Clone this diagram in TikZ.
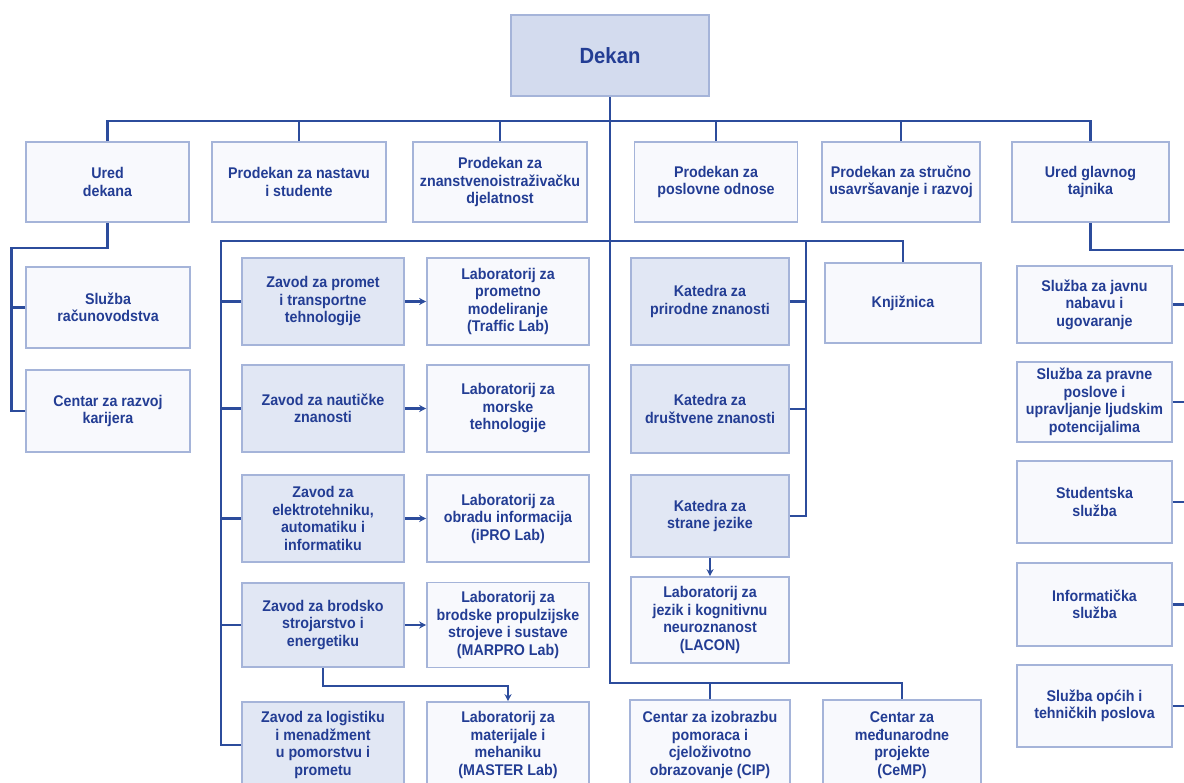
\documentclass[tikz,border=0pt]{standalone}
\usepackage{fontspec}
\setmainfont{Liberation Sans}[FakeStretch=0.92]
\usepackage{xcolor}
\usetikzlibrary{arrows.meta}

\definecolor{linec}{HTML}{2C4C9C}
\definecolor{textc}{HTML}{233D94}
\definecolor{boxc}{HTML}{A5B4D9}
\definecolor{fillz}{HTML}{E1E7F4}
\definecolor{filld}{HTML}{D3DBEE}
\definecolor{fillw}{HTML}{F8F9FD}

\tikzset{
    unit/.style={draw=boxc, line width=1.6pt, fill=fillw, text=textc,
        font=\bfseries\fontsize{15.5}{17.5}\selectfont, align=center, inner sep=0pt},
    zavod/.style={unit, fill=fillz},
    wh/.style 2 args={minimum width=#1pt, minimum height=#2pt},
    link/.style={draw=linec, line width=2.3pt},
    linkarr/.style={link, -{Stealth[length=7pt, width=7pt]}}
}

\begin{document}
\begin{tikzpicture}[x=1pt, y=-1pt]

        \useasboundingbox (0,0) rectangle (1184,783);
        \clip (0,0) rectangle (1184,783);

        % 1. Dekan
        \node[unit, fill=filld, wh={198}{81}, font=\bfseries\fontsize{22}{24}\selectfont] (dekan) at (610,55.5) {Dekan};

        % 2. First row
        \node[unit, wh={163}{80}] (uredD) at (107.5,182) {Ured\\dekana};
        \node[unit, wh={174}{80}] (prodN) at (299,182) {Prodekan za nastavu\\i studente};
        \node[unit, wh={174}{80}] (prodZ) at (500,182) {Prodekan za\\znanstvenoistraživačku\\djelatnost};
        \node[unit, wh={163}{80}] (prodP) at (716,182) {Prodekan za\\poslovne odnose};
        \node[unit, wh={158}{80}] (prodS) at (901,182) {Prodekan za stručno\\usavršavanje i razvoj};
        \node[unit, wh={157}{80}] (uredT) at (1090.5,182) {Ured glavnog\\tajnika};

        % 3. Under Ured dekana
        \node[unit, wh={164}{81}] (sluzR) at (108,307.5) {Služba\\računovodstva};
        \node[unit, wh={164}{82}] (centK) at (108,411) {Centar za razvoj\\karijera};

        % 4. Zavodi and their labs
        \node[zavod, wh={162}{87}] (zPromet) at (323,301.5) {Zavod za promet\\i transportne\\tehnologije};
        \node[zavod, wh={162}{87}] (zNaut) at (323,408.5) {Zavod za nautičke\\znanosti};
        \node[zavod, wh={162}{87}] (zElek) at (323,518.5) {Zavod za\\elektrotehniku,\\automatiku i\\informatiku};
        \node[zavod, wh={162}{84}] (zBrod) at (323,625) {Zavod za brodsko\\strojarstvo i\\energetiku};
        \node[zavod, wh={162}{86}] (zLog) at (323,745) {Zavod za logistiku\\i menadžment\\u pomorstvu i\\prometu};

        \node[unit, wh={162}{87}] (lTraffic) at (508,301.5) {Laboratorij za\\prometno\\modeliranje\\(Traffic Lab)};
        \node[unit, wh={162}{87}] (lMorske) at (508,408.5) {Laboratorij za\\morske\\tehnologije};
        \node[unit, wh={162}{87}] (lIpro) at (508,518.5) {Laboratorij za\\obradu informacija\\(iPRO Lab)};
        \node[unit, wh={162}{85}] (lMarpro) at (508,625) {Laboratorij za\\brodske propulzijske\\strojeve i sustave\\(MARPRO Lab)};
        \node[unit, wh={162}{86}] (lMaster) at (508,745) {Laboratorij za\\materijale i\\mehaniku\\(MASTER Lab)};

        % 5. Katedre, Knjižnica
        \node[zavod, wh={158}{87}] (kPrir) at (710,301.5) {Katedra za\\prirodne znanosti};
        \node[zavod, wh={158}{88}] (kDrus) at (710,409) {Katedra za\\društvene znanosti};
        \node[zavod, wh={158}{82}] (kStr) at (710,516) {Katedra za\\strane jezike};
        \node[unit, wh={158}{86}] (lLacon) at (710,620) {Laboratorij za\\jezik i kognitivnu\\neuroznanost\\(LACON)};
        \node[unit, wh={156}{80}] (knj) at (903,303) {Knjižnica};

        % 6. Centri
        \node[unit, wh={160}{90}] (cip) at (710,745) {Centar za izobrazbu\\pomoraca i\\cjeloživotno\\obrazovanje (CIP)};
        \node[unit, wh={158}{90}] (cemp) at (902,745) {Centar za\\međunarodne\\projekte\\(CeMP)};

        % 7. Under Ured glavnog tajnika
        \node[unit, wh={155}{77}] (sJavna) at (1094.5,304.5) {Služba za javnu\\nabavu i\\ugovaranje};
        \node[unit, wh={155}{80}] (sPravne) at (1094.5,402) {Služba za pravne\\poslove i\\upravljanje ljudskim\\potencijalima};
        \node[unit, wh={155}{82}] (sStud) at (1094.5,502) {Studentska\\služba};
        \node[unit, wh={155}{83}] (sInfo) at (1094.5,604.5) {Informatička\\služba};
        \node[unit, wh={155}{82}] (sOpci) at (1094.5,706) {Služba općih i\\tehničkih poslova};

        % 8. Bus points
        \coordinate (tb) at (0,121);
        \coordinate (lc) at (11.5,248);
        \coordinate (ib) at (221,241);
        \coordinate (kx) at (806,241);
        \coordinate (mb) at (0,686);
        \coordinate (bb) at (0,683);
        \coordinate (rx) at (1192,250);

        % 9. Connectors
        \draw[link] (dekan.south) -- (dekan.south |- bb) -- (cemp.north |- bb) -- (cemp.north);
        \draw[link] (cip.north) -- (cip.north |- bb);
        \draw[link] (uredD.north) -- (uredD.north |- tb) -- (uredT.north |- tb) -- (uredT.north);
        \foreach \n in {prodN, prodZ, prodP, prodS} {
            \draw[link] (\n.north) -- (\n.north |- tb);
        }

        \draw[link] (uredD.south) |- (lc) |- (centK.west);
        \draw[link] (sluzR.west) -- (sluzR.west -| lc);

        \draw[link] (zLog.west) -| (ib) -- (ib -| knj.north) -- (knj.north);
        \foreach \n in {zPromet, zNaut, zElek, zBrod} {
            \draw[link] (\n.west) -- (\n.west -| ib);
        }
        \foreach \a/\b in {zPromet/lTraffic, zNaut/lMorske, zElek/lIpro, zBrod/lMarpro, kStr/lLacon} {
            \draw[linkarr] (\a) -- (\b);
        }
        \draw[linkarr] (zBrod.south) -- (zBrod.south |- mb) -| (lMaster.north);

        \draw[link] (kStr.east) -| (kx);
        \foreach \n in {kPrir, kDrus} {
            \draw[link] (\n.east) -- (\n.east -| kx);
        }

        \draw[link] (uredT.south) |- (rx) -- (rx |- sOpci.east);
        \foreach \n in {sJavna, sPravne, sStud, sInfo, sOpci} {
            \draw[link] (\n.east) -- (\n.east -| rx);
        }

\end{tikzpicture}
\end{document}
